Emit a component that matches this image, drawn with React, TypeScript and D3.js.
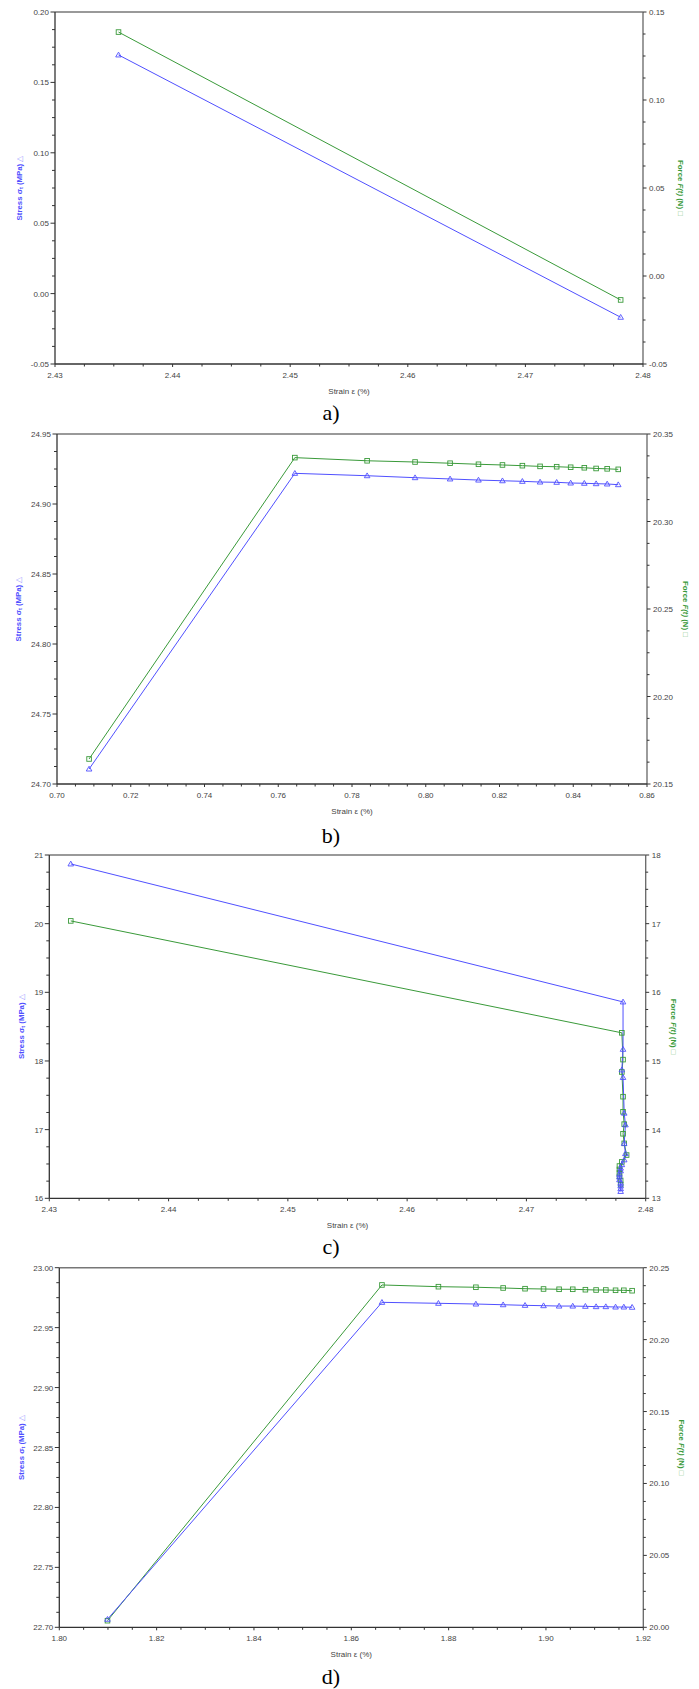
import React from "react";
import * as d3 from "d3";

// ---------- Panel a ----------
const aX = [2.4354, 2.4781];
const aStress = [0.1695, -0.0168];
const aForce = [0.1386, -0.0136];
const aXTicks = [2.43, 2.44, 2.45, 2.46, 2.47, 2.48];
const aLeftTicks = [-0.05, 0.0, 0.05, 0.1, 0.15, 0.2];
const aRightTicks = [-0.05, 0.0, 0.05, 0.1, 0.15];

// ---------- Panel b ----------
const bX = [0.7087, 0.7645, 0.7841, 0.7971, 0.8066, 0.8143, 0.8208, 0.8262, 0.831, 0.8355, 0.8393, 0.843, 0.8462, 0.8492, 0.8522];
const bStress = [24.7107, 24.9219, 24.9202, 24.9188, 24.9179, 24.9171, 24.9166, 24.9162, 24.9157, 24.9155, 24.915, 24.9148, 24.9145, 24.9143, 24.9138];
const bForce = [20.1643, 20.3365, 20.3347, 20.334, 20.3333, 20.3327, 20.3323, 20.3319, 20.3315, 20.3313, 20.331, 20.3307, 20.3303, 20.3301, 20.3298];
const bXTicks = [0.7, 0.72, 0.74, 0.76, 0.78, 0.8, 0.82, 0.84, 0.86];
const bLeftTicks = [24.7, 24.75, 24.8, 24.85, 24.9, 24.95];
const bRightTicks = [20.15, 20.2, 20.25, 20.3, 20.35];

// ---------- Panel c ----------
const cStressX = [2.4318, 2.4781, 2.4781, 2.478, 2.4781, 2.4782, 2.4783, 2.4782, 2.4783, 2.4782, 2.478, 2.4779, 2.4779, 2.4778, 2.4778, 2.4778, 2.4779, 2.4779, 2.4779, 2.4779];
const cStress = [20.87, 18.86, 18.17, 17.87, 17.76, 17.24, 17.07, 16.8, 16.65, 16.56, 16.49, 16.44, 16.4, 16.35, 16.31, 16.27, 16.22, 16.18, 16.14, 16.1];
const cForceX = [2.4318, 2.478, 2.4781, 2.478, 2.4781, 2.4781, 2.4782, 2.4781, 2.4782, 2.4784, 2.478, 2.4778, 2.4778, 2.4778, 2.4778, 2.4779, 2.4779];
const cForce = [17.04, 15.41, 15.02, 14.84, 14.48, 14.26, 14.08, 13.94, 13.8, 13.63, 13.53, 13.47, 13.42, 13.37, 13.32, 13.26, 13.2];
const cXTicks = [2.43, 2.44, 2.45, 2.46, 2.47, 2.48];
const cLeftTicks = [16, 17, 18, 19, 20, 21];
const cRightTicks = [13, 14, 15, 16, 17, 18];

// ---------- Panel d ----------
const dX = [1.8099, 1.8663, 1.8779, 1.8856, 1.8912, 1.8957, 1.8995, 1.9027, 1.9055, 1.9081, 1.9103, 1.9123, 1.9143, 1.916, 1.9177];
const dStress = [22.7067, 22.9711, 22.9703, 22.9697, 22.9691, 22.9686, 22.9683, 22.968, 22.968, 22.9678, 22.9675, 22.9675, 22.9672, 22.9672, 22.967];
const dForce = [20.0046, 20.238, 20.2368, 20.2364, 20.2359, 20.2354, 20.2352, 20.235, 20.235, 20.2347, 20.2345, 20.2345, 20.2343, 20.2343, 20.234];
const dXTicks = [1.8, 1.82, 1.84, 1.86, 1.88, 1.9, 1.92];
const dLeftTicks = [22.7, 22.75, 22.8, 22.85, 22.9, 22.95, 23.0];
const dRightTicks = [20.0, 20.05, 20.1, 20.15, 20.2, 20.25];

const panelLetters = ["a)", "b)", "c)", "d)"];

const BLUE = "#5050ff";
const GREEN = "#3a9a3a";
const SANS = "'Liberation Sans', Arial, sans-serif";

type Cfg = {
  box: { left: number; right: number; top: number; bottom: number };
  sx: number[]; sy: number[]; fx: number[]; fy: number[];
  xTicks: number[]; lTicks: number[]; rTicks: number[];
  xDec: number; lDec: number; rDec: number;
  lLabelX: number; rLabelX: number; letterY: number; letter: string;
};

const cfgs: Cfg[] = [
  { box: { left: 55, right: 643, top: 12, bottom: 364 }, sx: aX, sy: aStress, fx: aX, fy: aForce,
    xTicks: aXTicks, lTicks: aLeftTicks, rTicks: aRightTicks, xDec: 2, lDec: 2, rDec: 2,
    lLabelX: 20, rLabelX: 680, letterY: 420, letter: panelLetters[0] },
  { box: { left: 57, right: 647, top: 434, bottom: 784 }, sx: bX, sy: bStress, fx: bX, fy: bForce,
    xTicks: bXTicks, lTicks: bLeftTicks, rTicks: bRightTicks, xDec: 2, lDec: 2, rDec: 2,
    lLabelX: 18.5, rLabelX: 685, letterY: 843, letter: panelLetters[1] },
  { box: { left: 49.3, right: 645.7, top: 855, bottom: 1198.3 }, sx: cStressX, sy: cStress, fx: cForceX, fy: cForce,
    xTicks: cXTicks, lTicks: cLeftTicks, rTicks: cRightTicks, xDec: 2, lDec: 0, rDec: 0,
    lLabelX: 21.7, rLabelX: 673, letterY: 1254, letter: panelLetters[2] },
  { box: { left: 59.3, right: 643.3, top: 1267.7, bottom: 1627.3 }, sx: dX, sy: dStress, fx: dX, fy: dForce,
    xTicks: dXTicks, lTicks: dLeftTicks, rTicks: dRightTicks, xDec: 2, lDec: 2, rDec: 2,
    lLabelX: 21.7, rLabelX: 681, letterY: 1684, letter: panelLetters[3] },
];

function minors(t: number[]) {
  const out: number[] = [];
  for (let i = 0; i < t.length - 1; i++) {
    for (let k = 1; k < 4; k++) out.push(t[i] + ((t[i + 1] - t[i]) * k) / 4);
  }
  return out;
}

function fmt(v: number, dec: number) {
  return v.toFixed(dec);
}

function Panel({ c }: { c: Cfg }) {
  const { left, right, top, bottom } = c.box;
  const x = d3.scaleLinear().domain([c.xTicks[0], c.xTicks[c.xTicks.length - 1]]).range([left, right]);
  const yL = d3.scaleLinear().domain([c.lTicks[0], c.lTicks[c.lTicks.length - 1]]).range([bottom, top]);
  const yR = d3.scaleLinear().domain([c.rTicks[0], c.rTicks[c.rTicks.length - 1]]).range([bottom, top]);
  const stressPts = c.sx.map((v, i) => [x(v), yL(c.sy[i])] as [number, number]);
  const forcePts = c.fx.map((v, i) => [x(v), yR(c.fy[i])] as [number, number]);
  const line = d3.line();
  const midX = (left + right) / 2;
  const midY = (top + bottom) / 2;
  const tickFont = { fontFamily: SANS, fontSize: 8, fill: "#444" } as any;
  return (
    <g>
      {/* series */}
      <path d={line(forcePts) || ""} fill="none" stroke={GREEN} strokeWidth={1} />
      <path d={line(stressPts) || ""} fill="none" stroke={BLUE} strokeWidth={1} />
      {forcePts.map((p, i) => (
        <rect key={"f" + i} x={p[0] - 2.3} y={p[1] - 2.3} width={4.6} height={4.6} fill="none" stroke={GREEN} strokeWidth={0.9} />
      ))}
      {stressPts.map((p, i) => (
        <path key={"s" + i} d={`M${p[0]},${p[1] - 2.8}L${p[0] + 2.8},${p[1] + 2}L${p[0] - 2.8},${p[1] + 2}Z`} fill="none" stroke={BLUE} strokeWidth={0.9} />
      ))}
      {/* frame */}
      <line x1={left} x2={right} y1={top} y2={top} stroke="#777" strokeWidth={1.5} />
      <line x1={left} x2={left} y1={top} y2={bottom} stroke="#333" strokeWidth={1.3} />
      <line x1={right} x2={right} y1={top} y2={bottom} stroke="#666" strokeWidth={1.3} />
      <line x1={left} x2={right} y1={bottom} y2={bottom} stroke="#333" strokeWidth={1.3} />
      {/* x ticks */}
      {c.xTicks.map((t, i) => (
        <g key={"xt" + i}>
          <line x1={x(t)} x2={x(t)} y1={bottom} y2={bottom + 3} stroke="#333" strokeWidth={1} />
          <text x={x(t)} y={bottom + 14} textAnchor="middle" {...tickFont}>{fmt(t, c.xDec)}</text>
        </g>
      ))}
      {minors(c.xTicks).map((t, i) => (
        <line key={"xm" + i} x1={x(t)} x2={x(t)} y1={bottom} y2={bottom + 2.5} stroke="#333" strokeWidth={1} />
      ))}
      {/* left ticks */}
      {c.lTicks.map((t, i) => (
        <g key={"lt" + i}>
          <line x1={left - 4.5} x2={left} y1={yL(t)} y2={yL(t)} stroke="#333" strokeWidth={1} />
          <text x={left - 6} y={yL(t) + 3} textAnchor="end" {...tickFont}>{fmt(t, c.lDec)}</text>
        </g>
      ))}
      {minors(c.lTicks).map((t, i) => (
        <line key={"lm" + i} x1={left - 3} x2={left} y1={yL(t)} y2={yL(t)} stroke="#333" strokeWidth={1} />
      ))}
      {/* right ticks */}
      {c.rTicks.map((t, i) => (
        <g key={"rt" + i}>
          <line x1={right} x2={right + 3.5} y1={yR(t)} y2={yR(t)} stroke="#333" strokeWidth={1} />
          <text x={right + 6} y={yR(t) + 3} textAnchor="start" {...tickFont}>{fmt(t, c.rDec)}</text>
        </g>
      ))}
      {minors(c.rTicks).map((t, i) => (
        <line key={"rm" + i} x1={right} x2={right + 2.5} y1={yR(t)} y2={yR(t)} stroke="#333" strokeWidth={1} />
      ))}
      {/* axis titles */}
      <text x={midX} y={bottom + 30} textAnchor="middle" fontFamily={SANS} fontSize={8} fill="#444">Strain ε (%)</text>
      <text transform={`translate(${c.lLabelX},${midY}) rotate(-90)`} textAnchor="middle" dominantBaseline="middle"
        fontFamily={SANS} fontSize={7.8} fontWeight="bold" fill={BLUE}>
        Stress σ<tspan fontSize={5.5} dy={2}>t</tspan><tspan dy={-2}> (MPa) </tspan><tspan fontWeight="normal" fill="#9a9aff">△</tspan>
      </text>
      <text transform={`translate(${c.rLabelX},${midY}) rotate(90)`} textAnchor="middle" dominantBaseline="middle"
        fontFamily={SANS} fontSize={7.8} fontWeight="bold" fill={GREEN}>
        Force <tspan fontStyle="italic">F(t)</tspan> (N) <tspan fontWeight="normal" fill="#7cc07c">□</tspan>
      </text>
      {/* panel letter */}
      <text x={331} y={c.letterY} textAnchor="middle" fontFamily="'Liberation Serif', 'Times New Roman', serif" fontSize={22} fill="#000">{c.letter}</text>
    </g>
  );
}

export default function App() {
  return (
    <svg width={699} height={1689} style={{ position: "absolute", left: 0, top: 0, background: "#fff" }}>
      <rect x={0} y={0} width={699} height={1689} fill="#fff" />
      {cfgs.map((c, i) => (
        <Panel key={i} c={c} />
      ))}
    </svg>
  );
}
